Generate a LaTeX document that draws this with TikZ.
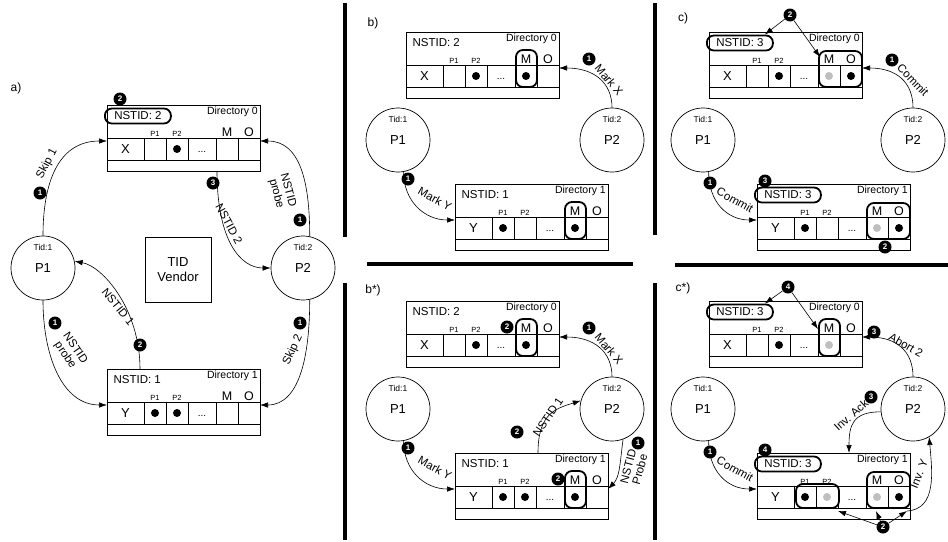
\documentclass[tikz,border=0pt]{standalone}
\usepackage{fontspec}
\setmainfont{Liberation Sans}
\usetikzlibrary{arrows.meta,calc}

\tikzset{
  dirframe/.style={draw,line width=0.7pt,minimum width=153pt,minimum height=66pt,inner sep=0pt},
  cellline/.style={line width=0.7pt},
  rowtxt/.style={font=\fontsize{13}{15}\selectfont,inner sep=0pt},
  coltxt/.style={font=\fontsize{7.5}{9}\selectfont,inner sep=0pt},
  bigtxt/.style={font=\fontsize{12.5}{14}\selectfont,inner sep=0pt},
  dirtxt/.style={font=\fontsize{10.5}{12}\selectfont,inner sep=1pt},
  idtxt/.style={font=\fontsize{11.5}{13}\selectfont,inner xsep=5pt,inner ysep=0pt,minimum height=15pt,minimum width=66pt},
  hlid/.style={draw,line width=1.8pt,rounded corners=7pt},
  hlbox/.style={line width=1.8pt,rounded corners=7pt},
  moretxt/.style={font=\fontsize{10}{12}\selectfont,inner sep=0pt},
  procnode/.style={draw,circle,line width=0.7pt,minimum size=64pt,inner sep=0pt,font=\fontsize{13}{15}\selectfont},
  tidtxt/.style={font=\fontsize{8.5}{10}\selectfont,inner sep=0pt},
  vendor/.style={draw,line width=0.7pt,minimum width=66pt,minimum height=65pt,align=center,font=\fontsize{13}{15}\selectfont},
  badge/.style={circle,fill=black,text=white,inner sep=0pt,minimum size=13pt,font=\fontsize{8}{9}\selectfont\bfseries},
  msg/.style={line width=0.6pt,-{Latex[length=8pt,width=5.5pt]}},
  lbl/.style={font=\fontsize{11.5}{12}\selectfont,inner sep=0pt,align=center},
  panel/.style={font=\fontsize{12}{14}\selectfont,inner sep=0pt},
  divider/.style={line width=3.2pt},
  light/.style={fill=black!25},
}

% directory table: name, x, y (top left), row, directory, nstid, id style
\newcommand{\dirbox}[7]{%
  \node[dirframe,anchor=north west] (#1) at (#2,#3) {};
  \draw[cellline] (#2,#3+33) -- +(153,0) (#2,#3+55) -- +(153,0);
  \foreach \dx in {37,59,81,109,131}
    \draw[cellline] (#2+\dx,#3+33) -- +(0,22);
  \coordinate (#1-w) at (#2,#3+36);
  \coordinate (#1-e) at (#2+153,#3+36);
  \coordinate (#1-p1) at (#2+48,#3+44);
  \coordinate (#1-p2) at (#2+70,#3+44);
  \coordinate (#1-m) at (#2+120,#3+44);
  \coordinate (#1-o) at (#2+142,#3+44);
  \node[rowtxt] (#1-row) at (#2+18.5,#3+44) {#4};
  \node[moretxt] (#1-more) at (#2+95,#3+47) {...};
  \node[coltxt,anchor=base] (#1-h1) at (#2+48,#3+31) {P1};
  \node[coltxt,anchor=base] (#1-h2) at (#2+70,#3+31) {P2};
  \node[bigtxt,anchor=base] (#1-hm) at (#2+120,#3+31) {M};
  \node[bigtxt,anchor=base] (#1-ho) at (#2+142,#3+31) {O};
  \node[dirtxt,anchor=north east] (#1-dir) at (#2+152,#3+1) {Directory #5};
  \node[idtxt,#7,anchor=west] (#1-id) at (#2-3,#3+11) {NSTID: #6};
}
\newcommand{\hlM}[1]{\draw[hlbox] ($(#1.north west)+(110,18)$) rectangle +(21,37);}
\newcommand{\hlMO}[1]{\draw[hlbox] ($(#1.north west)+(110,19)$) rectangle +(43,36);}
\newcommand{\hlPP}[1]{\draw[hlbox] ($(#1.north west)+(39,31)$) rectangle +(43,24);}
\newcommand{\tidcircle}[5]{%
  \node[procnode] (#1) at (#2,#3) {#4};
  \node[tidtxt] (#1-tid) at ([yshift=21pt]#1.center) {Tid:#5};
}

\begin{document}
\begin{tikzpicture}[x=1pt,y=-1pt,>=Latex]
  \useasboundingbox (0,0) rectangle (948,541);

  % panel dividers
  \draw[divider] (345,3) -- (345,237);
  \draw[divider] (345,283) -- (345,540);
  \draw[divider] (367,264) -- (633,264);
  \draw[divider] (655,3) -- (655,235);
  \draw[divider] (655,283) -- (655,540);
  \draw[divider] (675,265) -- (948,265);

  % ---- a)
  \node[panel] (a-tag) at (16,88) {a)};
  \dirbox{a0}{107}{105}{X}{0}{2}{hlid}
  \dirbox{a1}{107}{369}{Y}{1}{1}{}
  \fill (a0-p2) circle (4pt);
  \fill (a1-p1) circle (4pt);
  \fill (a1-p2) circle (4pt);
  \tidcircle{a-p1}{43}{268}{P1}{1}
  \tidcircle{a-p2}{303}{268}{P2}{2}
  \node[vendor] (a-vendor) at (178,270) {TID\\Vendor};
  \coordinate (a0-out) at (217,171);
  \coordinate (a1-in) at (140,369);
  \draw[msg] (a-p1.north) .. controls +(0,-60) and +(-45,0) .. (a0-w);
  \draw[msg] (a-p2.78) .. controls +(0,-55) and +(40,0) .. (a0-e);
  \draw[msg] (a0-out) .. controls +(0,70) and +(-30,0) .. (a-p2.west);
  \draw[msg] (a1-in) .. controls +(0,-60) and +(28,5) .. (a-p1.12);
  \draw[msg] (a-p1.south) .. controls +(0,55) and +(-45,0) .. (a1-w);
  \draw[msg] (a-p2.-78) .. controls +(0,55) and +(40,0) .. (a1-e);
  \node[badge] (a-b2) at (120,99) {2};
  \node[badge] (a-b1a) at (40,193) {1};
  \node[badge] (a-b1b) at (300,220) {1};
  \node[badge] (a-b3) at (213,183) {3};
  \node[badge] (a-b2b) at (140,345) {2};
  \node[badge] (a-b1c) at (55,323) {1};
  \node[badge] (a-b1d) at (300,323) {1};
  \node[lbl,rotate=62] (a-l1) at (47,164) {Skip 1};
  \node[lbl,rotate=-75] (a-l2) at (282,192) {NSTID\\probe};
  \node[lbl,rotate=-62] (a-l3) at (229,224) {NSTID 2};
  \node[lbl,rotate=-51] (a-l4) at (118,307) {NSTID 1};
  \node[lbl,rotate=-56] (a-l5) at (70,352) {NSTID\\probe};
  \node[lbl,rotate=65] (a-l6) at (293,350) {Skip 2};

  % ---- b)
  \node[panel] (b-tag) at (373,23) {b)};
  \dirbox{b0}{406}{32}{X}{0}{2}{}
  \dirbox{b1}{455}{184}{Y}{1}{1}{}
  \fill (b0-p2) circle (4pt);
  \fill (b0-m) circle (4pt);
  \fill (b1-p1) circle (4pt);
  \fill (b1-m) circle (4pt);
  \hlM{b0}
  \hlM{b1}
  \tidcircle{b-p1}{398}{140}{P1}{1}
  \tidcircle{b-p2}{612}{140}{P2}{2}
  \draw[msg] (b-p2.north) .. controls +(0,-25) and +(35,0) .. (b0-e);
  \draw[msg] (b-p1.-80) .. controls +(0,30) and +(-30,0) .. (b1-w);
  \node[badge] (b-b1a) at (589,59) {1};
  \node[badge] (b-b1b) at (408,179) {1};
  \node[lbl,rotate=-50] (b-l1) at (609,80) {Mark X};
  \node[lbl,rotate=-29] (b-l2) at (435,199) {Mark Y};

  % ---- b*)
  \begin{scope}[shift={(0,269)}]
    \node[panel] (bs-tag) at (373,21) {b*)};
    \dirbox{bs0}{406}{32}{X}{0}{2}{}
    \dirbox{bs1}{455}{184}{Y}{1}{1}{}
    \fill (bs0-p2) circle (4pt);
    \fill (bs0-m) circle (4pt);
    \fill (bs1-p1) circle (4pt);
    \fill (bs1-p2) circle (4pt);
    \fill (bs1-m) circle (4pt);
    \hlM{bs0}
    \hlM{bs1}
    \tidcircle{bs-p1}{398}{140}{P1}{1}
    \tidcircle{bs-p2}{612}{140}{P2}{2}
    \coordinate (bs1-out) at (538,184);
    \draw[msg] (bs-p2.north) .. controls +(0,-25) and +(35,0) .. (bs0-e);
    \draw[msg] (bs-p1.-80) .. controls +(0,30) and +(-30,0) .. (bs1-w);
    \draw[msg] (bs1-out) .. controls +(0,-40) and +(-25,8) .. (bs-p2.165);
    \draw[msg] (bs-p2.-70) .. controls +(-3,22) and +(12,-12) .. (bs1-e);
    \node[badge] (bs-b1a) at (589,59) {1};
    \node[badge] (bs-b1b) at (408,179) {1};
    \node[badge] (bs-b2a) at (507,58) {2};
    \node[badge] (bs-b2b) at (558,210) {2};
    \node[badge] (bs-b2c) at (517,163) {2};
    \node[badge] (bs-b1c) at (638,174) {1};
    \node[lbl,rotate=-50] (bs-l1) at (609,80) {Mark X};
    \node[lbl,rotate=-29] (bs-l2) at (435,199) {Mark Y};
    \node[lbl,rotate=56] (bs-l3) at (548,148) {NSTID 1};
    \node[lbl,rotate=75] (bs-l4) at (634,199) {NSTID\\Probe};
  \end{scope}

  % ---- c)
  \node[panel] (c-tag) at (683,18) {c)};
  \dirbox{c0}{709}{32}{X}{0}{3}{hlid}
  \dirbox{c1}{757}{184}{Y}{1}{3}{hlid}
  \fill (c0-p2) circle (4pt);
  \fill[light] (c0-m) circle (4pt);
  \fill (c0-o) circle (4pt);
  \fill (c1-p1) circle (4pt);
  \fill[light] (c1-m) circle (4pt);
  \fill (c1-o) circle (4pt);
  \hlMO{c0}
  \hlMO{c1}
  \tidcircle{c-p1}{703}{140}{P1}{1}
  \tidcircle{c-p2}{913}{140}{P2}{2}
  \draw[msg] (c-p2.north) .. controls +(0,-25) and +(35,0) .. (c0-e);
  \draw[msg] (c-p1.-80) .. controls +(0,30) and +(-30,0) .. (c1-w);
  \node[badge] (c-b2) at (790,15) {2};
  \coordinate (c0-mt) at (820,57);
  \draw[msg] (c-b2) -- ([xshift=-9pt]c0-id.north east);
  \draw[msg] (c-b2) -- (c0-mt);
  \node[badge] (c-b1a) at (892,60) {1};
  \node[badge] (c-b1b) at (710,183) {1};
  \node[badge] (c-b3) at (765,181) {3};
  \node[badge] (c-b2b) at (885,247) {2};
  \node[lbl,rotate=-46] (c-l1) at (913,80) {Commit};
  \node[lbl,rotate=-29] (c-l2) at (735,200) {Commit};

  % ---- c*)
  \begin{scope}[shift={(0,269)}]
    \node[panel] (cs-tag) at (683,19) {c*)};
    \dirbox{cs0}{709}{32}{X}{0}{3}{hlid}
    \dirbox{cs1}{757}{184}{Y}{1}{3}{hlid}
    \fill (cs0-p2) circle (4pt);
    \fill[light] (cs0-m) circle (4pt);
    \fill (cs1-p1) circle (4pt);
    \fill[light] (cs1-p2) circle (4pt);
    \fill[light] (cs1-m) circle (4pt);
    \fill (cs1-o) circle (4pt);
    \hlM{cs0}
    \hlMO{cs1}
    \hlPP{cs1}
    \tidcircle{cs-p1}{703}{140}{P1}{1}
    \tidcircle{cs-p2}{913}{140}{P2}{2}
    \draw[msg] (cs-p2.north) .. controls +(0,-25) and +(35,0) .. (cs0-e);
    \draw[msg] (cs-p1.-80) .. controls +(0,30) and +(-30,0) .. (cs1-w);
    \coordinate (cs1-ack) at (849,184);
    \draw[msg] (cs-p2.185) .. controls +(-28,0) and +(0,-28) .. (cs1-ack);
    \node[badge] (cs-b4a) at (788,18) {4};
    \coordinate (cs0-mt) at (818,60);
    \draw[msg] (cs-b4a) -- ([xshift=-9pt]cs0-id.north east);
    \draw[msg] (cs-b4a) -- (cs0-mt);
    \node[badge] (cs-b2) at (883,258) {2};
    \coordinate (cs1-t1) at (838,242);
    \coordinate (cs1-t2) at (876,242);
    \coordinate (cs1-t3) at (907,242);
    \draw[msg] (cs-b2) -- (cs1-t1);
    \draw[msg] (cs-b2) -- (cs1-t2);
    \draw[msg] (cs-b2) -- (cs1-t3);
    \draw[msg] (cs1-t3) .. controls +(30,-2) and +(3,35) .. (cs-p2.-60);
    \node[badge] (cs-b1) at (710,183) {1};
    \node[badge] (cs-b4b) at (765,181) {4};
    \node[badge] (cs-b3a) at (874,63) {3};
    \node[badge] (cs-b3b) at (871,128) {3};
    \node[lbl,rotate=-29] (cs-l1) at (735,200) {Commit};
    \node[lbl,rotate=-30] (cs-l2) at (906,76) {Abort 2};
    \node[lbl,rotate=42] (cs-l3) at (851,146) {Inv. Ack};
    \node[lbl,rotate=68] (cs-l4) at (919,205) {Inv. Y};
  \end{scope}
\end{tikzpicture}
\end{document}
